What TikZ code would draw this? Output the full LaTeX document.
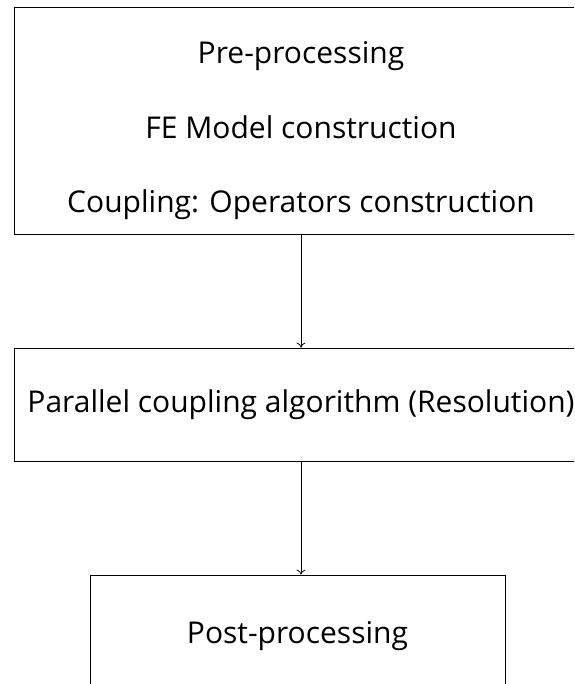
\documentclass[tikz,border=0pt]{standalone}
\usepackage{fontspec}
\setmainfont{Open Sans}
\usetikzlibrary{positioning, arrows.meta}

\tikzset{
    stage/.style={draw, line width=0.9pt, align=center, inner sep=0pt,
        font=\fontsize{30}{74.5}\selectfont},
    flow/.style={-{To[length=5pt, width=9pt]}, line width=0.8pt}
}

\begin{document}
\begin{tikzpicture}[x=1pt, y=-1pt]
            \useasboundingbox (0,0) rectangle (574,684);
            \clip (0,0) rectangle (574,684);
            \node[stage, minimum width=574pt, minimum height=227pt] (pre) at (301,121) {};
            \node[stage, draw=none] (pretext) at (301,131)
                {Pre-processing\\FE Model construction\\Coupling: Operators construction};
            \node[stage, minimum width=574pt, minimum height=113pt] (solve) at (301,404.5)
                {Parallel coupling algorithm (Resolution)};
            \node[stage, minimum width=415pt, minimum height=122pt] (post) at (297.5,636)
                {Post-processing};
            \draw[flow] (pre.south) -- (pre.south |- solve.north);
            \draw[flow] (solve.south) -- (solve.south |- post.north);
        \end{tikzpicture}
\end{document}
